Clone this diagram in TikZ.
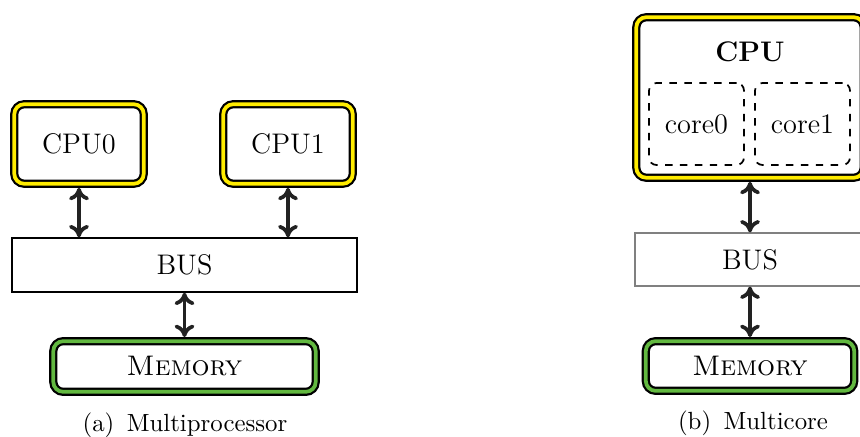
\documentclass[tikz,border=0pt]{standalone}
\usepackage{tikz}
\usetikzlibrary{arrows.meta, positioning}

\definecolor{cpuyellow}{RGB}{255,236,0}
\definecolor{memgreen}{RGB}{98,184,64}
\definecolor{arrowgray}{RGB}{34,34,34}

\begin{document}
\begin{tikzpicture}[
    x=0.01414cm, y=-0.01414cm,
    unitbox/.style={draw, rounded corners=4pt, line width=0.9pt, double distance=1.5pt, outer sep=1.65pt, inner sep=0pt, font=\fontsize{11.4}{14}\selectfont},
    cpubox/.style={unitbox, double=cpuyellow, minimum width=52.1pt, minimum height=32pt},
    membox/.style={unitbox, double=memgreen, minimum height=20.4pt},
    busbox/.style={draw, line width=0.6pt, minimum height=21.7pt, font=\fontsize{11.4}{14}\selectfont},
    corebox/.style={draw, dashed, line width=0.7pt, rounded corners=3pt, minimum width=38.2pt, minimum height=33pt, font=\fontsize{11.4}{14}\selectfont},
    arrow/.style={{Computer Modern Rightarrow[length=5pt, width=8pt]}-{Computer Modern Rightarrow[length=5pt, width=8pt]}, line width=1.5pt, draw=arrowgray}
]
\useasboundingbox (0,0) rectangle (860,437);

% (a) multiprocessor
\node[cpubox] (cpu0) at (79,144) {CPU0};
\node[cpubox] (cpu1) at (288,144) {CPU1};
\node[busbox, minimum width=138.7pt] (bus) at (184.5,265) {BUS};
\node[membox, minimum width=105.6pt] (mem) at (184.5,366.5) {\textsc{Memory}};
\node (capa) at (185,425) {(a)\enspace Multiprocessor};

\draw[arrow] (cpu0) -- (cpu0 |- bus.north);
\draw[arrow] (cpu1) -- (cpu1 |- bus.north);
\draw[arrow] (bus) -- (mem);

% (b) multicore
\node[cpubox, minimum width=91.5pt, minimum height=64.6pt] (cpu) at (750,97.5) {};
\node[font=\fontsize{11.4}{14}\selectfont\bfseries] (cpulabel) at (750,52) {CPU};
\node[corebox] (core0) at (696.5,124) {core0};
\node[corebox] (core1) at (802.5,124) {core1};
\node[busbox, draw=gray, line width=0.5pt, minimum width=92.5pt, minimum height=21.3pt] (bus2) at (750,259.5) {BUS};
\node[membox, minimum width=83.9pt, minimum height=20pt] (mem2) at (750,366) {\textsc{Memory}};
\node (capb) at (753,423) {(b)\enspace Multicore};

\draw[arrow] (cpu) -- (bus2);
\draw[arrow] (bus2) -- (mem2);

\end{tikzpicture}
\end{document}
